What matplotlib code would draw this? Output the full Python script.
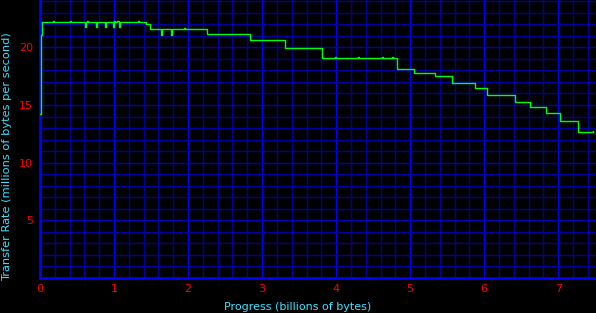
import numpy as np
import matplotlib
matplotlib.use("Agg")
import matplotlib.pyplot as plt
from matplotlib.ticker import MultipleLocator

##################################
####          Data            ####
##################################

# progress (billions of bytes) where each reading starts
progress = [0.000, 0.007, 0.014, 0.027, 0.176, 0.19, 0.405, 0.42,
            0.604, 0.618, 0.635, 0.65, 0.753, 0.767, 0.874, 0.888,
            0.986, 1.000, 1.012, 1.04, 1.068, 1.082, 1.32, 1.335,
            1.43, 1.48, 1.63, 1.645, 1.766, 1.78, 1.95, 1.965,
            2.257, 2.84, 3.307, 3.81, 3.98, 3.995, 4.30, 4.315,
            4.62, 4.635, 4.75, 4.765, 4.82, 5.05, 5.34, 5.57,
            5.88, 6.04, 6.41, 6.62, 6.84, 7.03, 7.27, 7.47]

# transfer rate (millions of bytes per second)
rate = [14.2, 17.3, 21.1, 22.2, 22.3, 22.2, 22.3, 22.2,
        21.8, 22.2, 22.3, 22.2, 21.8, 22.2, 21.8, 22.2,
        21.75, 22.25, 22.15, 22.3, 21.8, 22.2, 22.3, 22.2,
        22.0, 21.6, 21.1, 21.6, 21.1, 21.62, 21.7, 21.62,
        21.17, 20.63, 19.96, 19.04, 19.12, 19.04, 19.12, 19.04,
        19.12, 19.04, 19.12, 19.04, 18.08, 17.76, 17.48, 16.9,
        16.46, 15.86, 15.22, 14.79, 14.27, 13.58, 12.68, 12.75]

x_ticks = [0, 1, 2, 3, 4, 5, 6, 7]
y_ticks = [5, 10, 15, 20]

##################################
####          Plot            ####
##################################

fig = plt.figure(figsize=(5.96, 3.13), dpi=100, facecolor='black')
ax = fig.add_axes([40 / 596, 35 / 313, 556 / 596, 278 / 313], facecolor='black')

ax.set_xlim(0, 7.51)
ax.set_ylim(0, 24.1)

ax.xaxis.set_minor_locator(MultipleLocator(0.2))
ax.yaxis.set_minor_locator(MultipleLocator(1))
ax.set_xticks(x_ticks)
ax.set_yticks(y_ticks)

ax.grid(which='minor', color='#0000a0', linewidth=1)
ax.grid(which='major', axis='y', color='#0000b8', linewidth=1)
ax.grid(which='major', axis='x', color='#0000ff', linewidth=1)
ax.set_axisbelow(True)

ax.plot(progress, rate, color='#00ff00', linewidth=1, drawstyle='steps-post', zorder=3)

for side in ['top', 'right']:
    ax.spines[side].set_visible(False)
for side in ['left', 'bottom']:
    ax.spines[side].set_color('#0000ff')
    ax.spines[side].set_linewidth(2)

ax.tick_params(which='both', length=0, colors='#ff0000', labelsize=8)
ax.tick_params(axis='x', pad=4)
ax.tick_params(axis='y', pad=5)

fig.text(0.5, 0.003, 'Progress (billions of bytes)', color='#40e0ff',
         fontsize=8, ha='center', va='bottom')
fig.text(0.003, 0.5, 'Transfer Rate (millions of bytes per second)', color='#40e0ff',
         fontsize=8.2, ha='left', va='center', rotation=90)

fig.savefig('out.png', dpi=100, facecolor='black')
